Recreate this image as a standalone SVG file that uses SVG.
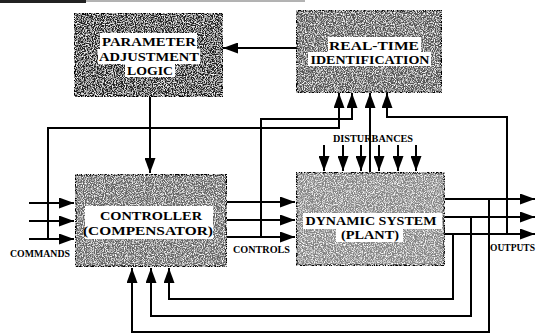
<svg xmlns="http://www.w3.org/2000/svg" width="536" height="335" viewBox="0 0 536 335">
<defs>
<style>
.box{stroke:#000;stroke-width:3}
.lbl{fill:#fff}
.t{font-family:"Liberation Serif","Times New Roman",serif;font-weight:bold;font-size:13px;fill:#000;text-anchor:middle}
.s{font-family:"Liberation Serif","Times New Roman",serif;font-weight:bold;font-size:9.5px;fill:#000}
.c{fill:none;stroke:#000;stroke-width:2}
</style>
<marker id="ah" markerUnits="userSpaceOnUse" viewBox="0 0 15 11" refX="15" refY="5.5" markerWidth="15" markerHeight="11" orient="auto">
<path d="M0,0 L15,5.5 L0,11 z" fill="#000"/>
</marker>
<filter id="grain" x="0" y="0" width="100%" height="100%">
<feTurbulence type="fractalNoise" baseFrequency="0.9" numOctaves="2" seed="4" result="t"/>
<feColorMatrix in="t" type="matrix" values="0 0 0 0 1  0 0 0 0 1  0 0 0 0 1  3 0 0 0 -1.3" result="w"/>
<feComposite in="w" in2="SourceGraphic" operator="in" result="dots"/>
<feMerge><feMergeNode in="SourceGraphic"/><feMergeNode in="dots"/></feMerge>
</filter>
</defs>
<rect x="0" y="0" width="536" height="335" fill="#fff"/>
<rect x="0" y="0" width="86" height="3" fill="#222"/>
<line x1="86" y1="1" x2="305" y2="1" stroke="#666" stroke-width="1"/>

<g id="parameter-adjustment-logic">
<rect class="box" x="74" y="13" width="149" height="84" fill="#222" filter="url(#grain)"/>
<rect class="lbl" x="100" y="33" width="97" height="16"/>
<rect class="lbl" x="98" y="49" width="102" height="15"/>
<rect class="lbl" x="125" y="64" width="50" height="13"/>
<text class="t" x="149" y="46" textLength="94" lengthAdjust="spacingAndGlyphs">PARAMETER</text>
<text class="t" x="149" y="61" textLength="100" lengthAdjust="spacingAndGlyphs">ADJUSTMENT</text>
<text class="t" x="150" y="75" textLength="46" lengthAdjust="spacingAndGlyphs">LOGIC</text>
</g>

<g id="real-time-identification">
<rect class="box" x="296" y="10" width="146" height="83" fill="#555" filter="url(#grain)"/>
<rect class="lbl" x="328" y="37" width="93" height="15"/>
<rect class="lbl" x="308" y="52" width="123" height="14"/>
<text class="t" x="374" y="50" textLength="90" lengthAdjust="spacingAndGlyphs">REAL-TIME</text>
<text class="t" x="370" y="64" textLength="119" lengthAdjust="spacingAndGlyphs">IDENTIFICATION</text>
</g>

<g id="controller">
<rect class="box" x="75" y="174" width="152" height="93" fill="#666" filter="url(#grain)"/>
<rect class="lbl" x="85" y="206" width="128" height="33"/>
<text class="t" x="151" y="220" textLength="102" lengthAdjust="spacingAndGlyphs">CONTROLLER</text>
<text class="t" x="148" y="235" textLength="130" lengthAdjust="spacingAndGlyphs">(COMPENSATOR)</text>
</g>

<g id="plant">
<rect class="box" x="296" y="172" width="149" height="94" fill="#858585" filter="url(#grain)"/>
<rect class="lbl" x="303" y="213" width="139" height="16"/>
<rect class="lbl" x="336" y="229" width="67" height="13"/>
<text class="t" x="371" y="225" textLength="131" lengthAdjust="spacingAndGlyphs">DYNAMIC SYSTEM</text>
<text class="t" x="370" y="239" textLength="58" lengthAdjust="spacingAndGlyphs">(PLANT)</text>
</g>

<g id="labels">
<text class="s" x="10" y="257" textLength="60" lengthAdjust="spacingAndGlyphs">COMMANDS</text>
<text class="s" x="233" y="253" textLength="57" lengthAdjust="spacingAndGlyphs">CONTROLS</text>
<text class="s" x="490" y="251" textLength="45" lengthAdjust="spacingAndGlyphs">OUTPUTS</text>
<text class="s" x="333" y="142" textLength="80" lengthAdjust="spacingAndGlyphs">DISTURBANCES</text>
</g>

<g id="connectors">
<line class="c" x1="296" y1="48" x2="223" y2="48" marker-end="url(#ah)"/>
<line class="c" x1="150" y1="97" x2="150" y2="173" marker-end="url(#ah)"/>
<line class="c" x1="29" y1="203" x2="74" y2="203" marker-end="url(#ah)"/>
<line class="c" x1="29" y1="221" x2="74" y2="221" marker-end="url(#ah)"/>
<line class="c" x1="29" y1="239" x2="74" y2="239" marker-end="url(#ah)"/>
<polyline class="c" points="48,240 48,128 339,128 339,93" marker-end="url(#ah)"/>
<line class="c" x1="227" y1="202" x2="295" y2="202" marker-end="url(#ah)"/>
<line class="c" x1="227" y1="220" x2="295" y2="220" marker-end="url(#ah)"/>
<line class="c" x1="227" y1="237" x2="295" y2="237" marker-end="url(#ah)"/>
<polyline class="c" points="261,238 261,119 352,119 352,93" marker-end="url(#ah)"/>
<line class="c" x1="370" y1="172" x2="370" y2="93" marker-end="url(#ah)"/>
<line class="c" x1="324" y1="145" x2="324" y2="171" marker-end="url(#ah)"/>
<line class="c" x1="343" y1="145" x2="343" y2="171" marker-end="url(#ah)"/>
<line class="c" x1="361" y1="145" x2="361" y2="171" marker-end="url(#ah)"/>
<line class="c" x1="379" y1="145" x2="379" y2="171" marker-end="url(#ah)"/>
<line class="c" x1="398" y1="145" x2="398" y2="171" marker-end="url(#ah)"/>
<line class="c" x1="416" y1="145" x2="416" y2="171" marker-end="url(#ah)"/>
<line class="c" x1="445" y1="199" x2="535" y2="199" marker-end="url(#ah)"/>
<line class="c" x1="445" y1="217" x2="535" y2="217" marker-end="url(#ah)"/>
<line class="c" x1="445" y1="234" x2="535" y2="234" marker-end="url(#ah)"/>
<polyline class="c" points="507,235 507,117 387,117 387,93" marker-end="url(#ah)"/>
<polyline class="c" points="453,234 453,299 169,299 169,268" marker-end="url(#ah)"/>
<polyline class="c" points="471,217 471,316 151,316 151,268" marker-end="url(#ah)"/>
<polyline class="c" points="489,199 489,332 132,332 132,268" marker-end="url(#ah)"/>
</g>
</svg>
